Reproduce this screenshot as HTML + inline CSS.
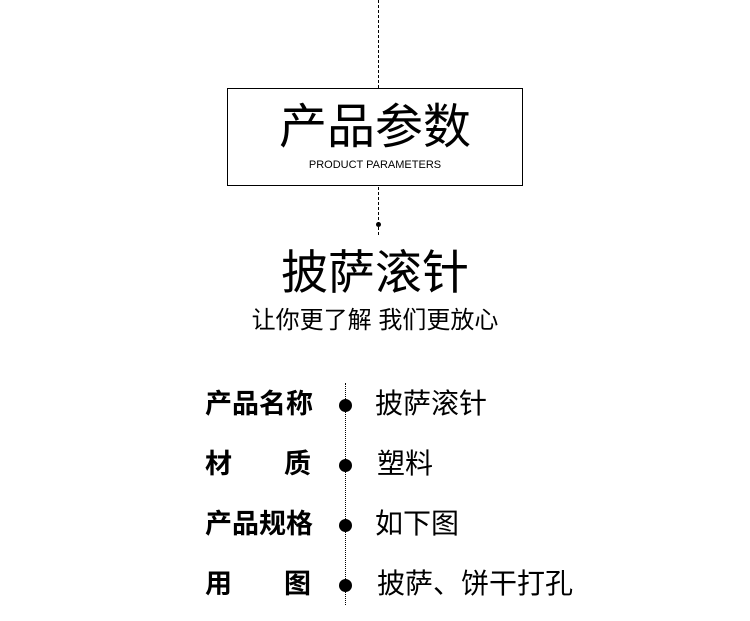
<!DOCTYPE html>
<html><head><meta charset="utf-8"><style>
html,body{margin:0;padding:0;background:#fff;width:750px;height:621px;overflow:hidden;position:relative}
.t{position:absolute;white-space:nowrap;font-family:"Liberation Sans","Noto Sans CJK SC",sans-serif;color:#000;line-height:1}
.c{left:0;width:750px;text-align:center}
.dot{position:absolute;width:13px;height:13px;border-radius:50%;background:#000;left:339px}
</style></head><body>
<div style="position:absolute;left:378px;top:0;height:88px;border-left:1px dashed #000"></div>
<div style="position:absolute;left:227px;top:88px;width:294px;height:96px;border:1px solid #000"></div>
<div style="position:absolute;left:378px;top:187px;height:48px;border-left:1px dashed #000"></div>
<div style="position:absolute;left:376px;top:222px;width:5px;height:5px;border-radius:50%;background:#000"></div>
<div class="t c" style="top:104px;font-size:48px;">产品参数</div>
<div class="t c" style="top:160px;font-size:11px;">PRODUCT PARAMETERS</div>
<div class="t c" style="top:249px;font-size:47px;">披萨滚针</div>
<div class="t c" style="top:309px;font-size:24px;">让你更了解 我们更放心</div>
<div style="position:absolute;left:345px;top:383px;height:222px;border-left:1px dotted #000"></div>
<div class="dot" style="top:399px"></div>
<div class="dot" style="top:459px"></div>
<div class="dot" style="top:519px"></div>
<div class="dot" style="top:579px"></div>
<div class="t" style="left:205px;top:391px;font-size:27px;font-weight:bold">产品名称</div>
<div class="t" style="left:205px;top:451px;font-size:27px;font-weight:bold">材</div>
<div class="t" style="left:284px;top:451px;font-size:27px;font-weight:bold">质</div>
<div class="t" style="left:205px;top:511px;font-size:27px;font-weight:bold">产品规格</div>
<div class="t" style="left:205px;top:571px;font-size:27px;font-weight:bold">用</div>
<div class="t" style="left:284px;top:571px;font-size:27px;font-weight:bold">图</div>
<div class="t" style="left:375px;top:390px;font-size:28px">披萨滚针</div>
<div class="t" style="left:377px;top:450px;font-size:28px">塑料</div>
<div class="t" style="left:375px;top:510px;font-size:28px">如下图</div>
<div class="t" style="left:377px;top:570px;font-size:28px">披萨、饼干打孔</div>
</body></html>
